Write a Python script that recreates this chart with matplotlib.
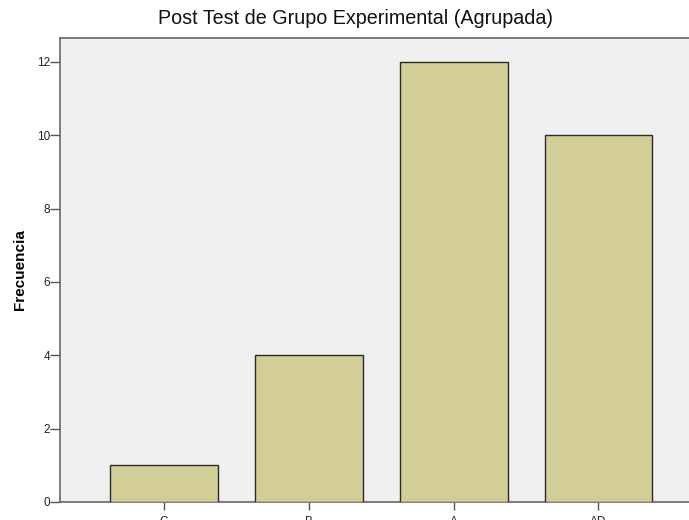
import numpy as np
import matplotlib.pyplot as plt

categories = ['C', 'B', 'A', 'AD']
counts = [1, 4, 12, 10]
yticks = [0, 2, 4, 6, 8, 10, 12]

plt.rcParams['font.family'] = ['Liberation Sans', 'DejaVu Sans']

W, H = 689, 520
fig = plt.figure(figsize=(W / 100, H / 100), dpi=100)
ax = fig.add_axes([60 / W, (H - 502) / H, (W - 60) / W + 0.02, (502 - 38) / H])
ax.set_facecolor('#f0f0f0')

x = np.arange(len(categories))
ax.bar(x, counts, width=0.745, color='#d3ce97', edgecolor='#2b2b2b', linewidth=1.0, zorder=3)

ax.set_xlim(-0.717, 3.72)
ax.set_ylim(0, 12.65)
ax.set_yticks(yticks)
ax.set_xticks(x)
ax.set_xticklabels(categories)
ax.tick_params(axis='y', length=7, width=1, color='#555555', labelsize=8.5, pad=0, labelcolor='#222222')
ax.tick_params(axis='x', length=6, width=1, color='#555555', labelsize=8.5, pad=4, labelcolor='#222222')

for s in ['left', 'top', 'bottom', 'right']:
    ax.spines[s].set_color('#666666')
    ax.spines[s].set_linewidth(1.2)

ax.set_ylabel('Frecuencia', fontsize=11, fontweight='bold', labelpad=7)
fig.text(355 / W, 1 - 19 / H, 'Post Test de Grupo Experimental (Agrupada)',
         ha='center', va='center', fontsize=14.2, color='#111111')

fig.savefig('out.png', dpi=100)
